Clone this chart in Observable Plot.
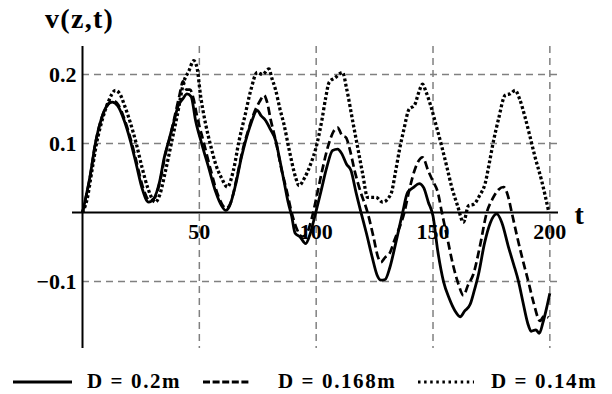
<!DOCTYPE html>
<html>
<head>
<meta charset="utf-8">
<script src="https://cdn.jsdelivr.net/npm/d3@7"></script>
<script src="https://cdn.jsdelivr.net/npm/@observablehq/plot@0.6"></script>
<style>
  html, body { margin: 0; padding: 0; background: #fff; }
  #wrap { position: relative; width: 612px; height: 394px; overflow: hidden; font-family: "Liberation Serif", "Times New Roman", serif; font-weight: bold; }
  #title { position: absolute; left: 45px; top: 5px; font-size: 28px; line-height: 28px; letter-spacing: 1.3px; color: #000; }
  #legend { position: absolute; left: 0; top: 352px; }
</style>
</head>
<body>
<div id="wrap">
  <div id="chart"></div>
  <div id="title">v(z,t)</div>
  <svg id="legend" width="612" height="42"></svg>
</div>
<script>
// ---- data ----
const seriesNames = ["D = 0.2m", "D = 0.168m", "D = 0.14m"];

const tSolid = [0,3.4,5.5,8,10.5,12.7,15,18,20.5,23,25.5,28.3,30.5,33,35,36.9,39,41,43,44.7,46.5,48.4,51,54,57,59.5,61.3,63,65.5,68,69.8,72,74.8,76.5,78,80.5,82.7,84.5,86.2,88,89.5,91,93,95.5,97.5,99.8,102,104.5,107,109.2,111,113,114.9,117,119.2,121.5,124,126,127.7,129.5,131.5,134,137,139.1,141.5,144.1,146,148,150,152,154.5,157,159.5,161.6,163.5,165.9,167.5,169.5,172,174.5,177.3,179.5,182.3,184.5,186.6,188.5,190.5,192,194,195.5,197,198.5,200];
const vSolid = [0,0.056,0.10,0.135,0.155,0.160,0.155,0.132,0.104,0.07,0.035,0.015,0.02,0.045,0.08,0.104,0.13,0.155,0.165,0.172,0.168,0.133,0.10,0.065,0.03,0.01,0.003,0.01,0.04,0.08,0.104,0.128,0.148,0.14,0.135,0.12,0.104,0.075,0.046,0.015,-0.005,-0.03,-0.035,-0.045,-0.03,0,0.03,0.065,0.09,0.092,0.085,0.07,0.061,0.03,0,-0.03,-0.065,-0.09,-0.098,-0.097,-0.08,-0.045,0,0.029,0.036,0.042,0.036,0.015,-0.005,-0.055,-0.10,-0.125,-0.143,-0.151,-0.143,-0.133,-0.115,-0.089,-0.045,-0.015,-0.002,-0.015,-0.05,-0.075,-0.10,-0.13,-0.16,-0.172,-0.17,-0.175,-0.16,-0.14,-0.117];

const tDashed = [0,3.4,5.5,8,10.5,13,15.5,18,20.5,23,26,28.8,31,33.5,35.5,37.5,39.5,41.5,43,44.5,46,47.5,49,52,55,58,61.5,63.5,66,68.5,71,73.5,76,77.7,79,80.5,82.7,85,87.5,89.5,91.5,94,96,98,100,102.5,105,107.5,109.2,111,112.7,114.5,116.5,119,122,124.5,126.5,127.7,129.5,131.3,133.5,137.7,140,142.5,145.5,148,150,152,153.8,156,158.5,161,163,165,167.3,170,173,175.5,178,180.2,182,183.7,186,188.5,190.8,193,195.8,197.5,199.4];
const vDashed = [0,0.055,0.10,0.135,0.155,0.162,0.155,0.135,0.108,0.075,0.035,0.017,0.022,0.05,0.085,0.11,0.14,0.17,0.19,0.178,0.178,0.165,0.14,0.10,0.06,0.025,0.006,0.015,0.05,0.09,0.12,0.145,0.162,0.170,0.16,0.135,0.104,0.065,0.03,0,-0.022,-0.035,-0.03,-0.01,0.02,0.06,0.095,0.118,0.123,0.112,0.109,0.09,0.06,0.03,0,-0.035,-0.065,-0.072,-0.065,-0.06,-0.04,0,0.035,0.065,0.08,0.06,0.045,0.03,0,-0.035,-0.075,-0.105,-0.12,-0.105,-0.089,-0.05,0,0.02,0.033,0.037,0.025,0,-0.035,-0.07,-0.10,-0.13,-0.157,-0.15,-0.152];

const tDotted = [0,2,4,6,8.5,11,14.1,16,18,20.5,23,25.5,28,31.2,33,35.5,38,40.5,43.4,45.5,47.6,49,50.5,52.7,55,57,59.5,62,64.5,67,69.5,72,74.8,77,79.8,81,82.7,84.5,86.2,88.5,91.2,92.6,95,97.6,100,102.5,104,105.6,108,111.3,113,115.6,118,119.9,122,125.6,128.4,132,134,135.6,137.5,139.8,142,144,145.5,147,149,151.2,153.8,156,158,160.5,163,165.2,167.4,170,172.3,174,175.9,178,180.9,183,185.2,187,189.4,191.5,193.7,196.5,199.4];
const vDotted = [0,0.02,0.06,0.10,0.135,0.16,0.177,0.172,0.155,0.13,0.10,0.065,0.035,0.015,0.025,0.06,0.10,0.14,0.19,0.205,0.22,0.21,0.17,0.128,0.095,0.07,0.05,0.037,0.06,0.104,0.14,0.177,0.203,0.20,0.208,0.195,0.177,0.15,0.128,0.09,0.051,0.039,0.05,0.07,0.095,0.135,0.165,0.189,0.195,0.203,0.18,0.133,0.09,0.056,0.022,0.022,0.015,0.027,0.06,0.09,0.12,0.15,0.155,0.175,0.186,0.175,0.155,0.128,0.095,0.065,0.037,0.01,-0.014,0.01,0.012,0.025,0.042,0.07,0.104,0.135,0.17,0.172,0.177,0.165,0.138,0.11,0.08,0.046,0.003];

const xTicks = [50, 100, 150, 200];
const yTicks = [-0.1, 0.1, 0.2];
const xLabel = "t";

// ---- build rows ----
const seriesT = [tSolid, tDashed, tDotted];
const seriesV = [vSolid, vDashed, vDotted];
const dashes = [null, "8,4", "2.9,2.3"];
const widths = [2.8, 2.7, 3.3];
const rows = seriesNames.map((name, i) => seriesT[i].map((t, j) => ({t, v: seriesV[i][j], name})));

const gridStyle = {stroke: "#808080", strokeWidth: 1.5, strokeDasharray: "7,5"};
const fmt = d => (d < 0 ? "\u2212" + Math.abs(d) : String(d));

const chart = Plot.plot({
  width: 612,
  height: 352,
  marginLeft: 82,
  marginRight: 54,
  marginTop: 46,
  marginBottom: 4,
  x: {domain: [0, 203.7], axis: null},
  y: {domain: [-0.197, 0.2406]},
  style: {fontFamily: "'Liberation Serif', 'Times New Roman', serif", fontWeight: "bold", background: "white", color: "#000"},
  marks: [
    Plot.ruleX(xTicks, gridStyle),
    Plot.ruleY(yTicks, gridStyle),
    Plot.ruleX([0], {stroke: "#000", strokeWidth: 2}),
    Plot.ruleY([0], {stroke: "#000", strokeWidth: 2, insetLeft: -10}),
    Plot.axisY(yTicks, {tickSize: 0, tickPadding: 6, fontSize: 22, fontWeight: "bold", tickFormat: fmt, label: null, style: "letter-spacing:1px"}),
    Plot.text(xTicks, {x: d => d, y: () => 0, text: d => String(d), fontSize: 22, fontWeight: "bold", lineAnchor: "bottom", dy: 26, style: "letter-spacing:1px"}),
    Plot.text([{lab: xLabel, v: 0}], {y: "v", text: "lab", frameAnchor: "right", textAnchor: "start", lineAnchor: "bottom", dx: 16, dy: 11, fontSize: 28, fontWeight: "bold"}),
    ...rows.map((r, i) => Plot.line(r, {x: "t", y: "v", stroke: "#000", strokeWidth: widths[i], strokeDasharray: dashes[i], strokeLinecap: "butt", curve: "monotone-x", strokeLinejoin: "round"}))
  ]
});
document.getElementById("chart").appendChild(chart);

// ---- legend below the chart ----
const legend = d3.select("#legend");
const legendSample = [[13, 72], [203, 250], [418, 474]];
const legendText = [87, 278, 491];
const legendDash = [null, "7,2.6", "2.5,3.6"];
seriesNames.forEach((name, i) => {
  legend.append("line")
    .attr("x1", legendSample[i][0]).attr("x2", legendSample[i][1])
    .attr("y1", 30).attr("y2", 30)
    .attr("stroke", "#000").attr("stroke-width", 3)
    .attr("stroke-dasharray", legendDash[i]);
  legend.append("text")
    .attr("x", legendText[i]).attr("y", 36)
    .attr("font-size", 21).attr("font-weight", "bold")
    .attr("font-family", "'Liberation Serif', 'Times New Roman', serif")
    .style("letter-spacing", "1.6px")
    .text(name);
});
</script>
</body>
</html>
